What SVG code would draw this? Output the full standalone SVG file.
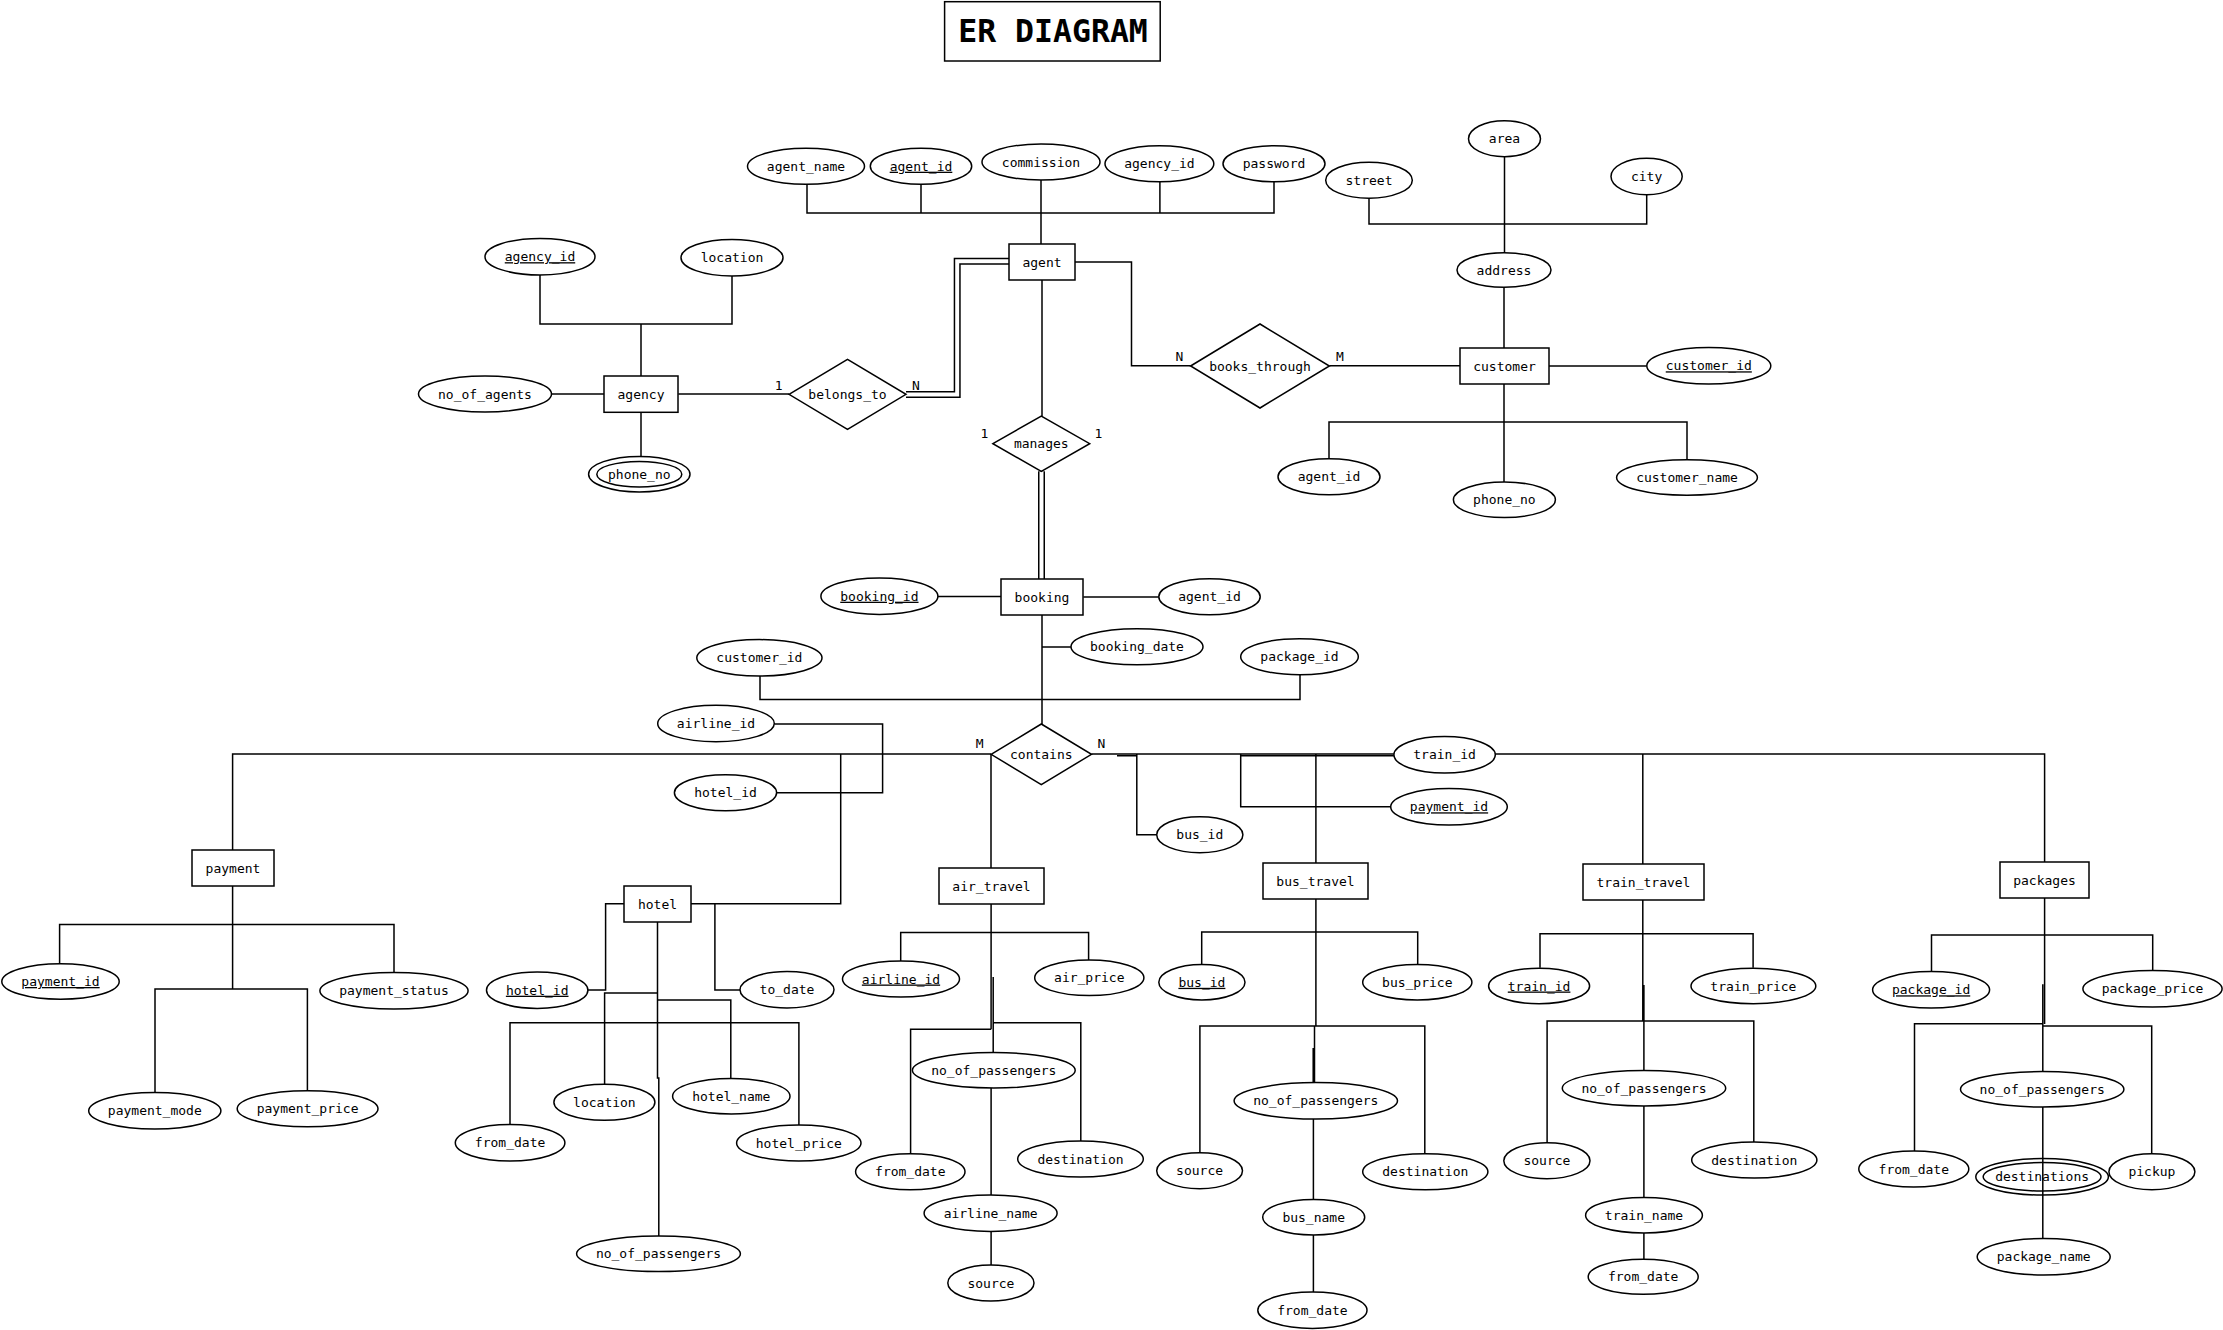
<svg xmlns="http://www.w3.org/2000/svg" width="2223" height="1330" viewBox="0 0 2223 1330">
<style>
.n{fill:#fff;stroke:#000;stroke-width:1.5}
.h{fill:none;stroke:#000;stroke-width:1.5}
.t{font-family:"DejaVu Sans Mono",monospace;font-size:13px;text-anchor:middle;fill:#000}
.u{text-decoration:underline}
.c{fill:none;stroke:#000;stroke-width:1.5}
.dbo{fill:none;stroke:#000;stroke-width:7}
.dbi{fill:none;stroke:#fff;stroke-width:4}
.title{font-family:"DejaVu Sans Mono",monospace;font-size:31.5px;font-weight:bold;text-anchor:middle;fill:#000}
</style>
<rect width="2223" height="1330" fill="#fff"/>
<g id="title"><rect class="n" x="944.6" y="1.7" width="215.6" height="59.3"/><text class="title" x="1053" y="41.7">ER DIAGRAM</text></g>
<g id="connectors">
<path class="c" d="M540,275V324H732V276M641,324V376"/>
<path class="c" d="M551.4,394H604"/>
<path class="c" d="M641,412.3V456.3"/>
<path class="c" d="M678.3,394H789"/>
<path class="dbo" d="M906,394.5H957.2V261.3H1009"/>
<path class="dbi" d="M906,394.5H957.2V261.3H1009"/>
<path class="c" d="M807,184V213H1274V181.7M921,184V213M1041,180V244M1159.9,181.7V213"/>
<path class="c" d="M1075,262H1131.5V365.7H1190.7"/>
<path class="c" d="M1329.4,365.7H1460"/>
<path class="c" d="M1369,198V224H1646.7V194.7M1504.5,156.7V252.7M1504,287.3V348"/>
<path class="c" d="M1549,366H1646.7"/>
<path class="c" d="M1504,384V482M1329,458.7V422H1687V459.7"/>
<path class="c" d="M1042,280V416"/>
<path class="dbo" d="M1041.5,471.3V579"/>
<path class="dbi" d="M1041.5,471.3V579"/>
<path class="c" d="M937.9,596.5H1001"/>
<path class="c" d="M1083.3,597H1158.8"/>
<path class="c" d="M1042,615V724M1042,647H1070.9"/>
<path class="c" d="M760,676V699.5H1300V674.7"/>
<path class="c" d="M774.4,724H882.6V792.7H776.6"/>
<path class="c" d="M991,754H232.6V850M840.7,754V903.7H691M991,754V868"/>
<path class="c" d="M1091.5,754H1393.9M1495.3,754H2044.6V862M1136.8,754V834.7H1156.7M1240.7,754V806.7H1390.7M1315.9,754V863M1642.8,754V864M1117,755.7H1136.8M1240.7,755.7H1393.9"/>
<path class="c" d="M232.6,886V989M59.6,963.7V924.5H394V972.7M155,1092.7V989H307.4V1090.7"/>
<path class="c" d="M624,903.7H605.6V990H587.9M714.9,903.7V990H740M657.5,921.7V1078H658.8V1236M657.5,993H604.6V1084.3M657.5,1000H730.8V1078.3M510,1124.7V1022.7H798.9V1125"/>
<path class="c" d="M991.1,903.7V1029.3M900.7,961V932.5H1088.6V960M910.6,1153.7V1029.3H991.1M993.2,977V1052.7M993.2,1022.7H1080.8V1141M991.1,1088V1195M991.1,1231.3V1265"/>
<path class="c" d="M1315.9,898.7V1026M1201.7,964.7V932H1417.7V964.7M1199.9,1152.7V1026H1424.8V1153.7M1314.5,1026V1082.7M1313.2,1048V1082.7M1313.4,1119V1199.3M1313.4,1235V1292"/>
<path class="c" d="M1642.8,899.7V1021M1540,967.7V933.7H1753.1V967.7M1547.1,1142.7V1021H1753.8V1142M1643.9,985V1070.3M1643.9,1106V1197.7M1643.9,1233V1259.3"/>
<path class="c" d="M2044.6,898V1024M1931.5,971.7V935H2152.7V970.7M1914.5,1151V1023.7H2043M2043,1026H2151.7V1153.7M2042.8,984.3V1071.7M2042.8,1107V1238.7"/>
<g class="t"><text x="778.7" y="389.7">1</text><text x="916" y="389.7">N</text><text x="1179.4" y="360.7">N</text><text x="1340" y="360.7">M</text><text x="984.4" y="437.7">1</text><text x="1098.5" y="437.7">1</text><text x="979.7" y="748.4">M</text><text x="1101.4" y="748.4">N</text></g>
</g>
<g id="agency"><rect class="n" x="604" y="376" width="74" height="36.3"/><text class="t" x="641" y="398.5">agency</text></g>
<g id="agent"><rect class="n" x="1009" y="244" width="66" height="36"/><text class="t" x="1042" y="266.5">agent</text></g>
<g id="customer"><rect class="n" x="1460" y="348" width="89" height="36"/><text class="t" x="1504.5" y="370.5">customer</text></g>
<g id="booking"><rect class="n" x="1001" y="579" width="82" height="36"/><text class="t" x="1042" y="601.5">booking</text></g>
<g id="payment"><rect class="n" x="192" y="850" width="82" height="36"/><text class="t" x="233" y="872.5">payment</text></g>
<g id="hotel"><rect class="n" x="624" y="886" width="67" height="36"/><text class="t" x="657.5" y="908.5">hotel</text></g>
<g id="air_travel"><rect class="n" x="939" y="868" width="105" height="36"/><text class="t" x="991.5" y="890.5">air_travel</text></g>
<g id="bus_travel"><rect class="n" x="1263" y="863" width="105" height="36"/><text class="t" x="1315.5" y="885.5">bus_travel</text></g>
<g id="train_travel"><rect class="n" x="1583" y="864" width="121" height="36"/><text class="t" x="1643.5" y="886.5">train_travel</text></g>
<g id="packages"><rect class="n" x="2000" y="862" width="89" height="36"/><text class="t" x="2044.5" y="884.5">packages</text></g>
<g id="belongs_to"><polygon class="n" points="789,394.3 847.5,359.3 906,394.3 847.5,429.3"/><text class="t" x="847.5" y="398.8">belongs_to</text></g>
<g id="books_through"><polygon class="n" points="1190.6,366 1260,324 1329.4,366 1260,408"/><text class="t" x="1260" y="370.5">books_through</text></g>
<g id="manages"><polygon class="n" points="992.9,443.7 1041.3,416 1089.7,443.7 1041.3,471.4"/><text class="t" x="1041.3" y="448.2">manages</text></g>
<g id="contains"><polygon class="n" points="991.1,754.3 1041.3,724 1091.5,754.3 1041.3,784.6"/><text class="t" x="1041.3" y="758.8">contains</text></g>
<g id="attr_agency_id"><ellipse class="n" cx="540" cy="256.7" rx="55" ry="18.3"/><text class="t u" x="540" y="261.2">agency_id</text></g>
<g id="attr_location"><ellipse class="n" cx="732" cy="257.7" rx="51" ry="18.3"/><text class="t" x="732" y="262.2">location</text></g>
<g id="attr_no_of_agents"><ellipse class="n" cx="485" cy="394" rx="66.5" ry="18"/><text class="t" x="485" y="398.5">no_of_agents</text></g>
<g id="attr_agency_phone_no"><ellipse class="n" cx="639.3" cy="474.2" rx="50.7" ry="17.8"/><ellipse class="h" cx="639.3" cy="474.2" rx="42.5" ry="12.8"/><text class="t" x="639.3" y="478.7">phone_no</text></g>
<g id="attr_agent_name"><ellipse class="n" cx="806" cy="166.2" rx="58.5" ry="18"/><text class="t" x="806" y="170.7">agent_name</text></g>
<g id="attr_agent_id"><ellipse class="n" cx="921" cy="166.2" rx="50.7" ry="18"/><text class="t u" x="921" y="170.7">agent_id</text></g>
<g id="attr_commission"><ellipse class="n" cx="1041" cy="162" rx="59" ry="18"/><text class="t" x="1041" y="166.5">commission</text></g>
<g id="attr_agent_agency_id"><ellipse class="n" cx="1159.4" cy="163.7" rx="54.4" ry="18"/><text class="t" x="1159.4" y="168.2">agency_id</text></g>
<g id="attr_password"><ellipse class="n" cx="1274" cy="163.7" rx="51" ry="18"/><text class="t" x="1274" y="168.2">password</text></g>
<g id="attr_street"><ellipse class="n" cx="1369" cy="180.2" rx="43.3" ry="18"/><text class="t" x="1369" y="184.7">street</text></g>
<g id="attr_area"><ellipse class="n" cx="1504.5" cy="138.7" rx="36" ry="18"/><text class="t" x="1504.5" y="143.2">area</text></g>
<g id="attr_city"><ellipse class="n" cx="1646.6" cy="176.5" rx="35.6" ry="18.2"/><text class="t" x="1646.6" y="181">city</text></g>
<g id="attr_address"><ellipse class="n" cx="1504" cy="270" rx="47" ry="17.3"/><text class="t" x="1504" y="274.5">address</text></g>
<g id="attr_customer_id"><ellipse class="n" cx="1708.8" cy="365.8" rx="62" ry="18.2"/><text class="t u" x="1708.8" y="370.3">customer_id</text></g>
<g id="attr_customer_agent_id"><ellipse class="n" cx="1329" cy="476.7" rx="51" ry="18"/><text class="t" x="1329" y="481.2">agent_id</text></g>
<g id="attr_customer_phone_no"><ellipse class="n" cx="1504.4" cy="499.8" rx="51" ry="17.8"/><text class="t" x="1504.4" y="504.3">phone_no</text></g>
<g id="attr_customer_name"><ellipse class="n" cx="1687" cy="477.5" rx="70.4" ry="17.8"/><text class="t" x="1687" y="482">customer_name</text></g>
<g id="attr_booking_id"><ellipse class="n" cx="879.4" cy="596.2" rx="58.5" ry="18.2"/><text class="t u" x="879.4" y="600.7">booking_id</text></g>
<g id="attr_booking_agent_id"><ellipse class="n" cx="1209.5" cy="596.7" rx="50.7" ry="18"/><text class="t" x="1209.5" y="601.2">agent_id</text></g>
<g id="attr_booking_date"><ellipse class="n" cx="1137" cy="646.7" rx="66" ry="18"/><text class="t" x="1137" y="651.2">booking_date</text></g>
<g id="attr_rel_customer_id"><ellipse class="n" cx="759.4" cy="657.8" rx="62.6" ry="18.2"/><text class="t" x="759.4" y="662.3">customer_id</text></g>
<g id="attr_rel_package_id"><ellipse class="n" cx="1299.5" cy="656.7" rx="58.8" ry="18"/><text class="t" x="1299.5" y="661.2">package_id</text></g>
<g id="attr_rel_airline_id"><ellipse class="n" cx="716" cy="723.5" rx="58.3" ry="18.2"/><text class="t" x="716" y="728">airline_id</text></g>
<g id="attr_rel_hotel_id"><ellipse class="n" cx="725.5" cy="792.7" rx="51.1" ry="18"/><text class="t" x="725.5" y="797.2">hotel_id</text></g>
<g id="attr_rel_train_id"><ellipse class="n" cx="1444.6" cy="754.8" rx="50.7" ry="18.2"/><text class="t" x="1444.6" y="759.3">train_id</text></g>
<g id="attr_rel_payment_id"><ellipse class="n" cx="1449" cy="806.8" rx="58.3" ry="18.2"/><text class="t u" x="1449" y="811.3">payment_id</text></g>
<g id="attr_rel_bus_id"><ellipse class="n" cx="1199.8" cy="834.7" rx="43.1" ry="18"/><text class="t" x="1199.8" y="839.2">bus_id</text></g>
<g id="attr_payment_id"><ellipse class="n" cx="60.5" cy="981.5" rx="58.7" ry="17.8"/><text class="t u" x="60.5" y="986">payment_id</text></g>
<g id="attr_payment_status"><ellipse class="n" cx="394" cy="990.8" rx="74.1" ry="18.2"/><text class="t" x="394" y="995.3">payment_status</text></g>
<g id="attr_payment_mode"><ellipse class="n" cx="154.8" cy="1110.8" rx="66.1" ry="18.2"/><text class="t" x="154.8" y="1115.3">payment_mode</text></g>
<g id="attr_payment_price"><ellipse class="n" cx="307.6" cy="1108.7" rx="70.4" ry="18"/><text class="t" x="307.6" y="1113.2">payment_price</text></g>
<g id="attr_hotel_id"><ellipse class="n" cx="537.2" cy="990.2" rx="50.7" ry="18.2"/><text class="t u" x="537.2" y="994.7">hotel_id</text></g>
<g id="attr_to_date"><ellipse class="n" cx="787" cy="989.8" rx="47" ry="18.2"/><text class="t" x="787" y="994.3">to_date</text></g>
<g id="attr_hotel_location"><ellipse class="n" cx="604.4" cy="1102.3" rx="50.5" ry="18"/><text class="t" x="604.4" y="1106.8">location</text></g>
<g id="attr_hotel_name"><ellipse class="n" cx="731.3" cy="1096.2" rx="58.7" ry="17.8"/><text class="t" x="731.3" y="1100.7">hotel_name</text></g>
<g id="attr_hotel_from_date"><ellipse class="n" cx="510.1" cy="1142.8" rx="54.8" ry="18.2"/><text class="t" x="510.1" y="1147.3">from_date</text></g>
<g id="attr_hotel_price"><ellipse class="n" cx="798.8" cy="1143" rx="62.2" ry="18"/><text class="t" x="798.8" y="1147.5">hotel_price</text></g>
<g id="attr_hotel_no_of_passengers"><ellipse class="n" cx="658.5" cy="1253.8" rx="81.9" ry="17.8"/><text class="t" x="658.5" y="1258.3">no_of_passengers</text></g>
<g id="attr_airline_id"><ellipse class="n" cx="901" cy="979" rx="58.5" ry="18"/><text class="t u" x="901" y="983.5">airline_id</text></g>
<g id="attr_air_price"><ellipse class="n" cx="1089.3" cy="977.8" rx="54.6" ry="17.8"/><text class="t" x="1089.3" y="982.3">air_price</text></g>
<g id="attr_air_no_of_passengers"><ellipse class="n" cx="993.8" cy="1070.3" rx="81.4" ry="17.7"/><text class="t" x="993.8" y="1074.8">no_of_passengers</text></g>
<g id="attr_air_from_date"><ellipse class="n" cx="910.3" cy="1171.7" rx="54.7" ry="18"/><text class="t" x="910.3" y="1176.2">from_date</text></g>
<g id="attr_air_destination"><ellipse class="n" cx="1080.5" cy="1159" rx="62.8" ry="18"/><text class="t" x="1080.5" y="1163.5">destination</text></g>
<g id="attr_airline_name"><ellipse class="n" cx="990.6" cy="1213.2" rx="66.5" ry="18.2"/><text class="t" x="990.6" y="1217.7">airline_name</text></g>
<g id="attr_air_source"><ellipse class="n" cx="990.9" cy="1283" rx="43.1" ry="18"/><text class="t" x="990.9" y="1287.5">source</text></g>
<g id="attr_bus_id"><ellipse class="n" cx="1201.9" cy="982.3" rx="43.1" ry="17.7"/><text class="t u" x="1201.9" y="986.8">bus_id</text></g>
<g id="attr_bus_price"><ellipse class="n" cx="1417.3" cy="982.3" rx="54.6" ry="17.7"/><text class="t" x="1417.3" y="986.8">bus_price</text></g>
<g id="attr_bus_no_of_passengers"><ellipse class="n" cx="1315.8" cy="1100.8" rx="81.7" ry="18.2"/><text class="t" x="1315.8" y="1105.3">no_of_passengers</text></g>
<g id="attr_bus_source"><ellipse class="n" cx="1199.6" cy="1170.7" rx="42.9" ry="18"/><text class="t" x="1199.6" y="1175.2">source</text></g>
<g id="attr_bus_destination"><ellipse class="n" cx="1425.3" cy="1171.7" rx="62.6" ry="18"/><text class="t" x="1425.3" y="1176.2">destination</text></g>
<g id="attr_bus_name"><ellipse class="n" cx="1313.7" cy="1217.2" rx="51" ry="17.8"/><text class="t" x="1313.7" y="1221.7">bus_name</text></g>
<g id="attr_bus_from_date"><ellipse class="n" cx="1312.4" cy="1310.2" rx="54.6" ry="18.2"/><text class="t" x="1312.4" y="1314.7">from_date</text></g>
<g id="attr_train_id"><ellipse class="n" cx="1539.1" cy="986" rx="50.5" ry="17.7"/><text class="t u" x="1539.1" y="990.5">train_id</text></g>
<g id="attr_train_price"><ellipse class="n" cx="1753.4" cy="986" rx="62.4" ry="17.7"/><text class="t" x="1753.4" y="990.5">train_price</text></g>
<g id="attr_train_no_of_passengers"><ellipse class="n" cx="1644" cy="1088.2" rx="81.7" ry="17.8"/><text class="t" x="1644" y="1092.7">no_of_passengers</text></g>
<g id="attr_train_source"><ellipse class="n" cx="1546.9" cy="1160.7" rx="43.1" ry="18"/><text class="t" x="1546.9" y="1165.2">source</text></g>
<g id="attr_train_destination"><ellipse class="n" cx="1754.3" cy="1160" rx="62.6" ry="18"/><text class="t" x="1754.3" y="1164.5">destination</text></g>
<g id="attr_train_name"><ellipse class="n" cx="1644" cy="1215.3" rx="58.4" ry="17.7"/><text class="t" x="1644" y="1219.8">train_name</text></g>
<g id="attr_train_from_date"><ellipse class="n" cx="1643.2" cy="1276.8" rx="55" ry="17.5"/><text class="t" x="1643.2" y="1281.3">from_date</text></g>
<g id="attr_package_id"><ellipse class="n" cx="1931.1" cy="989.8" rx="58.5" ry="18.2"/><text class="t u" x="1931.1" y="994.3">package_id</text></g>
<g id="attr_package_price"><ellipse class="n" cx="2152.5" cy="988.8" rx="69.6" ry="18.2"/><text class="t" x="2152.5" y="993.3">package_price</text></g>
<g id="attr_pkg_no_of_passengers"><ellipse class="n" cx="2042.2" cy="1089.3" rx="81.7" ry="17.7"/><text class="t" x="2042.2" y="1093.8">no_of_passengers</text></g>
<g id="attr_pkg_from_date"><ellipse class="n" cx="1913.8" cy="1169" rx="55" ry="18"/><text class="t" x="1913.8" y="1173.5">from_date</text></g>
<g id="attr_destinations"><ellipse class="h" cx="2042.1" cy="1176.8" rx="66.3" ry="18.2"/><ellipse class="h" cx="2042.1" cy="1176.8" rx="58.9" ry="14.2"/><text class="t" x="2042.1" y="1181.3">destinations</text></g>
<g id="attr_pickup"><ellipse class="n" cx="2151.9" cy="1171.7" rx="43" ry="18"/><text class="t" x="2151.9" y="1176.2">pickup</text></g>
<g id="attr_package_name"><ellipse class="n" cx="2043.7" cy="1256.8" rx="66.5" ry="18.2"/><text class="t" x="2043.7" y="1261.3">package_name</text></g>
</svg>
